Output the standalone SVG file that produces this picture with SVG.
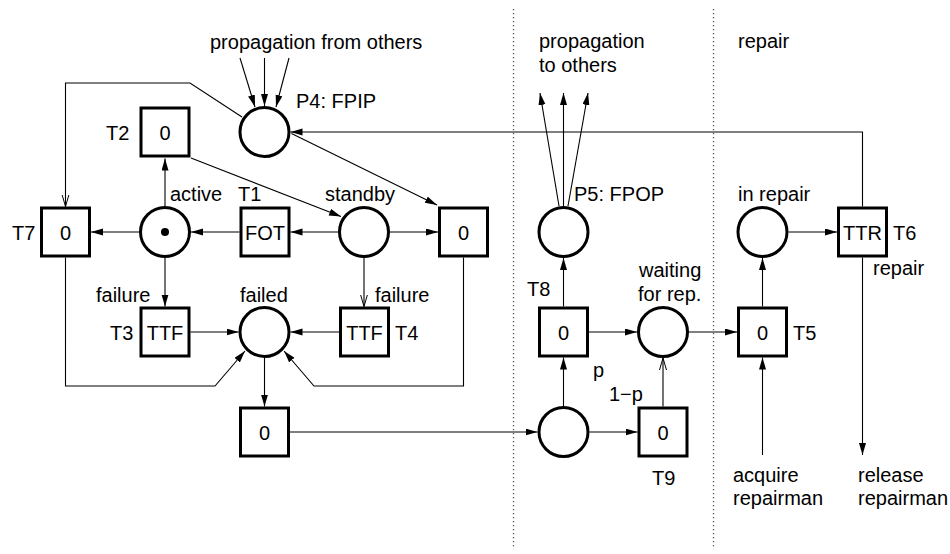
<svg xmlns="http://www.w3.org/2000/svg" width="950" height="554" viewBox="0 0 950 554">
  <style>
    text { font-family: "Liberation Sans", Arial, sans-serif; font-size: 20px; fill: #000; }
    .mid { text-anchor: middle; }
    .place { fill: #fff; stroke: #000; stroke-width: 3; }
    .trans { fill: #fff; stroke: #000; stroke-width: 3; }
    .arc { fill: none; stroke: #000; stroke-width: 1.1; }
    .arc-f { marker-end: url(#head); }
    .arc-o { marker-end: url(#open); }
    .divider { stroke: #555; stroke-width: 1.3; stroke-dasharray: 1.3 2.7; fill: none; }
  </style>
  <defs>
    <marker id="head" markerUnits="userSpaceOnUse" markerWidth="13" markerHeight="8" refX="12" refY="3.5" orient="auto">
      <path d="M0,0 L12,3.5 L0,7 Z" fill="#000"/>
    </marker>
    <marker id="open" markerUnits="userSpaceOnUse" markerWidth="13" markerHeight="9" refX="12" refY="4" orient="auto">
      <path d="M0,0.5 L12,4 L0,7.5" fill="none" stroke="#000" stroke-width="1"/>
    </marker>
  </defs>
  <rect width="950" height="554" fill="#fff"/>

  <!-- section dividers -->
  <g id="dividers">
    <line class="divider" x1="513.5" y1="9" x2="513.5" y2="549"/>
    <line class="divider" x1="713.5" y1="9" x2="713.5" y2="549"/>
  </g>

  <!-- arcs -->
  <g id="connectors">
    <line class="arc arc-f" x1="240" y1="58" x2="255" y2="107"/>
    <line class="arc arc-f" x1="264.5" y1="58" x2="264.5" y2="106"/>
    <line class="arc arc-f" x1="289" y1="58" x2="276" y2="107"/>
    <path class="arc arc-o" d="M242,117 L190,83 L65.5,83 L65.5,206.5"/>
    <line class="arc arc-f" x1="291.5" y1="133.5" x2="437" y2="205"/>
    <path class="arc arc-f" d="M862.5,206.5 L862.5,132 L290.5,132"/>
    <line class="arc arc-f" x1="165" y1="206" x2="165" y2="158.5"/>
    <line class="arc arc-f" x1="191" y1="158" x2="341" y2="216.5"/>
    <line class="arc arc-f" x1="139" y1="232" x2="91" y2="232"/>
    <line class="arc arc-f" x1="239.5" y1="232" x2="191" y2="232"/>
    <line class="arc arc-f" x1="338" y1="232" x2="290.5" y2="232"/>
    <line class="arc arc-f" x1="390" y1="232" x2="438" y2="232"/>
    <line class="arc arc-f" x1="165" y1="258" x2="165" y2="306.5"/>
    <line class="arc arc-o" x1="364" y1="258" x2="364" y2="306.5"/>
    <line class="arc arc-f" x1="190.5" y1="332" x2="238.5" y2="332"/>
    <line class="arc arc-f" x1="339" y1="332" x2="290.5" y2="332"/>
    <path class="arc arc-f" d="M65.5,257.5 L65.5,386 L215,386 L245,351"/>
    <path class="arc arc-f" d="M463.5,257.5 L463.5,386 L314,386 L284,351"/>
    <line class="arc arc-f" x1="264.5" y1="358" x2="264.5" y2="406.5"/>
    <line class="arc arc-f" x1="290" y1="432" x2="537.5" y2="432"/>
    <line class="arc arc-f" x1="559" y1="206" x2="540" y2="93"/>
    <line class="arc arc-f" x1="563.5" y1="206" x2="563.5" y2="93"/>
    <line class="arc arc-f" x1="568" y1="206" x2="588" y2="93"/>
    <line class="arc arc-f" x1="563.5" y1="306.5" x2="563.5" y2="258"/>
    <line class="arc arc-f" x1="589" y1="332" x2="637" y2="332"/>
    <line class="arc arc-f" x1="689" y1="332" x2="737" y2="332"/>
    <line class="arc arc-f" x1="762.5" y1="306.5" x2="762.5" y2="258"/>
    <line class="arc arc-f" x1="788.5" y1="232" x2="837" y2="232"/>
    <line class="arc arc-f" x1="563.5" y1="406" x2="563.5" y2="357.5"/>
    <line class="arc arc-f" x1="589.5" y1="432" x2="637.5" y2="432"/>
    <line class="arc arc-o" x1="663" y1="406.5" x2="663" y2="358"/>
    <line class="arc arc-f" x1="762.5" y1="455" x2="762.5" y2="357.5"/>
    <line class="arc arc-f" x1="862.5" y1="257.5" x2="862.5" y2="455"/>
  </g>

  <!-- places -->
  <g id="P4"><circle class="place" cx="264.5" cy="132" r="24.5"/><text x="296" y="108">P4: FPIP</text></g>
  <g id="active"><circle class="place" cx="165" cy="232" r="24.5"/><circle cx="165" cy="232" r="4" fill="#000"/><text x="170" y="201">active</text></g>
  <g id="standby"><circle class="place" cx="364" cy="232" r="24.5"/><text x="325" y="201">standby</text></g>
  <g id="failed"><circle class="place" cx="264.5" cy="332" r="24.5"/><text x="240" y="302">failed</text></g>
  <g id="P5"><circle class="place" cx="563.5" cy="232" r="24.5"/><text x="574" y="201">P5: FPOP</text></g>
  <g id="waiting"><circle class="place" cx="663" cy="332" r="24.5"/><text x="639" y="277">waiting</text><text x="638" y="301">for rep.</text></g>
  <g id="branch"><circle class="place" cx="563.5" cy="432" r="24.5"/></g>
  <g id="inrepair"><circle class="place" cx="762.5" cy="232" r="24.5"/><text x="738" y="201">in repair</text></g>

  <!-- transitions -->
  <g id="T2"><rect class="trans" x="141" y="108" width="48" height="48"/><text class="mid" x="165" y="140">0</text><text x="106" y="140">T2</text></g>
  <g id="T7"><rect class="trans" x="41.5" y="208" width="48" height="48"/><text class="mid" x="65.5" y="240">0</text><text x="12" y="240">T7</text></g>
  <g id="T1"><rect class="trans" x="241" y="208" width="48" height="48"/><text class="mid" x="265" y="240">FOT</text><text x="238" y="201">T1</text></g>
  <g id="T10"><rect class="trans" x="439.5" y="208" width="48" height="48"/><text class="mid" x="463.5" y="240">0</text></g>
  <g id="T3"><rect class="trans" x="141" y="308" width="48" height="48"/><text class="mid" x="165" y="340">TTF</text><text x="110" y="340">T3</text><text x="96" y="302">failure</text></g>
  <g id="T4"><rect class="trans" x="340.5" y="308" width="48" height="48"/><text class="mid" x="364.5" y="340">TTF</text><text x="395" y="340">T4</text><text x="375" y="302">failure</text></g>
  <g id="T11"><rect class="trans" x="240.5" y="408" width="48" height="48"/><text class="mid" x="264.5" y="440">0</text></g>
  <g id="T8"><rect class="trans" x="539.5" y="308" width="48" height="48"/><text class="mid" x="563.5" y="340">0</text><text x="527" y="296">T8</text><text x="593" y="377">p</text></g>
  <g id="T9"><rect class="trans" x="639" y="408" width="48" height="48"/><text class="mid" x="663" y="440">0</text><text x="652" y="485">T9</text><text x="609" y="401">1−p</text></g>
  <g id="T5"><rect class="trans" x="738.5" y="308" width="48" height="48"/><text class="mid" x="762.5" y="340">0</text><text x="793" y="340">T5</text></g>
  <g id="T6"><rect class="trans" x="838.5" y="208" width="48" height="48"/><text class="mid" x="862.5" y="240">TTR</text><text x="893" y="240">T6</text><text x="873" y="275">repair</text></g>

  <!-- free labels -->
  <g id="labels">
    <text x="210" y="49">propagation from others</text>
    <text x="539" y="48">propagation</text>
    <text x="539" y="72">to others</text>
    <text x="738" y="48">repair</text>
    <text x="733" y="482">acquire</text>
    <text x="733" y="505">repairman</text>
    <text x="858" y="482">release</text>
    <text x="858" y="505">repairman</text>
  </g>
</svg>
